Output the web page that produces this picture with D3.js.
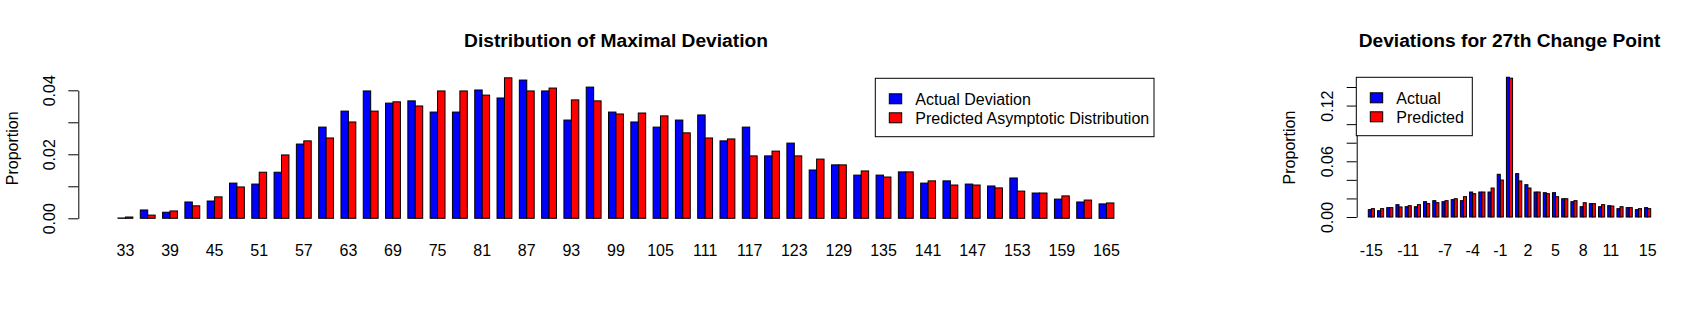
<!DOCTYPE html>
<html>
<head>
<meta charset="utf-8">
<script src="https://cdn.jsdelivr.net/npm/d3@7"></script>
<style>
  body { margin: 0; background: #fff; }
  svg { font-family: "Liberation Sans", Arial, sans-serif; }
</style>
</head>
<body>
<svg id="chart" width="1708" height="318"></svg>
<script>
// values

var devCats = [33, 36, 39, 42, 45, 48, 51, 54, 57, 60, 63, 66, 69, 72, 75, 78, 81, 84, 87, 90, 93, 96,
               99, 102, 105, 108, 111, 114, 117, 120, 123, 126, 129, 132, 135, 138, 141, 144, 147, 150,
               153, 156, 159, 162, 165];
var devActual = [0.0001, 0.0026, 0.0019, 0.0051, 0.0054, 0.0110, 0.0107, 0.0144, 0.0232, 0.0285, 0.0335,
                 0.0398, 0.0360, 0.0367, 0.0332, 0.0332, 0.0401, 0.0376, 0.0432, 0.0398, 0.0307, 0.0410,
                 0.0332, 0.0301, 0.0285, 0.0307, 0.0323, 0.0242, 0.0285, 0.0195, 0.0235, 0.0151, 0.0167,
                 0.0135, 0.0135, 0.0145, 0.0110, 0.0117, 0.0107, 0.0101, 0.0126, 0.0079, 0.0060, 0.0051,
                 0.0045];
var devPredicted = [0.0004, 0.0010, 0.0023, 0.0039, 0.0067, 0.0098, 0.0144, 0.0198, 0.0242, 0.0251, 0.0301,
                    0.0335, 0.0364, 0.0351, 0.0398, 0.0398, 0.0385, 0.0439, 0.0398, 0.0407, 0.0370, 0.0367,
                    0.0326, 0.0329, 0.0320, 0.0267, 0.0251, 0.0248, 0.0195, 0.0210, 0.0195, 0.0185, 0.0167,
                    0.0148, 0.0129, 0.0145, 0.0117, 0.0104, 0.0104, 0.0095, 0.0085, 0.0079, 0.0070, 0.0057,
                    0.0048];
var devLabels = [33, 39, 45, 51, 57, 63, 69, 75, 81, 87, 93, 99, 105, 111, 117, 123, 129, 135, 141, 147,
                 153, 159, 165];
var devYTicks = [0, 0.01, 0.02, 0.03, 0.04];
var devYLabels = [0, 0.02, 0.04];
var devLegend = ["Actual Deviation", "Predicted Asymptotic Distribution"];

var cpCats = [-15, -14, -13, -12, -11, -10, -9, -8, -7, -6, -5, -4, -3, -2, -1, 0,
              1, 2, 3, 4, 5, 6, 7, 8, 9, 10, 11, 12, 13, 14, 15];
var cpActual = [0.0079, 0.0068, 0.0101, 0.0133, 0.0111, 0.0111, 0.0165, 0.0176, 0.0165, 0.0187, 0.0176,
                0.0269, 0.0269, 0.0269, 0.0460, 0.1505, 0.0467, 0.0348, 0.0269, 0.0262, 0.0262, 0.0197,
                0.0165, 0.0111, 0.0144, 0.0111, 0.0122, 0.0090, 0.0101, 0.0079, 0.0101];
var cpPredicted = [0.0090, 0.0090, 0.0101, 0.0108, 0.0122, 0.0133, 0.0144, 0.0154, 0.0176, 0.0197, 0.0219,
                   0.0251, 0.0269, 0.0312, 0.0398, 0.1495, 0.0388, 0.0312, 0.0269, 0.0251, 0.0219, 0.0197,
                   0.0176, 0.0154, 0.0144, 0.0133, 0.0118, 0.0111, 0.0101, 0.0090, 0.0090];
var cpLabels = [-15, -11, -7, -4, -1, 2, 5, 8, 11, 15];
var cpYTicks = [0, 0.02, 0.04, 0.06, 0.08, 0.10, 0.12, 0.14];
var cpYLabels = [0, 0.06, 0.12];
var cpLegend = ["Actual", "Predicted"];

var seriesColors = ["#0000ff", "#ff0000"];

var svg = d3.select("#chart");

//////////////////////////////////////////////////////////////////////////////
// one R-style grouped barplot

function drawPanel(p)
{
    var g = svg.append("g");

    var x = d3.scaleBand()
        .domain(p.cats)
        .range([p.barLeft, p.barRight])
        .paddingInner(1/3)
        .paddingOuter(0);
    var xInner = d3.scaleBand()
        .domain([0, 1])
        .range([0, x.bandwidth()]);
    var y = d3.scaleLinear()
        .domain([0, p.yTicks[p.yTicks.length - 1]])
        .range([p.y0, p.yTop]);

    var rows = p.cats.map(function(c, i) {
        return {cat: c, vals: [p.actual[i], p.predicted[i]]};
    });

    g.append("g")
        .selectAll("g")
        .data(rows)
        .enter()
        .append("g")
        .attr("transform", function(d) { return "translate(" + x(d.cat) + ",0)"; })
        .selectAll("rect")
        .data(function(d) { return d.vals; })
        .enter()
        .append("rect")
        .attr("x", function(d, i) { return xInner(i); })
        .attr("y", function(d) { return y(d); })
        .attr("width", xInner.bandwidth())
        .attr("height", function(d) { return y(0) - y(d); })
        .attr("fill", function(d, i) { return seriesColors[i]; })
        .attr("stroke", "#000")
        .attr("stroke-width", 1);

    // y axis
    var yAxis = g.append("g")
        .attr("transform", "translate(" + p.axisX + ",0)")
        .call(d3.axisLeft(y)
            .tickValues(p.yTicks)
            .tickSize(10)
            .tickSizeOuter(0)
            .tickFormat(function(d) {
                return p.yLabels.some(function(v) { return Math.abs(v - d) < 1e-9; }) ? d3.format(".2f")(d) : "";
            }));
    yAxis.select(".domain").attr("stroke", "#000");
    yAxis.selectAll(".tick line").attr("stroke", "#000");
    yAxis.selectAll(".tick text")
        .attr("x", null).attr("dy", null)
        .attr("transform", "translate(-23.3,0) rotate(-90)")
        .attr("text-anchor", "middle")
        .attr("fill", "#000")
        .style("font-size", "16px");
    yAxis.attr("font-family", null);

    // x labels, no line
    var xAxis = g.append("g")
        .attr("transform", "translate(0," + p.labelY + ")")
        .call(d3.axisBottom(x)
            .tickSize(0)
            .tickFormat(function(d) { return p.labels.indexOf(d) >= 0 ? String(d) : ""; }));
    xAxis.select(".domain").remove();
    xAxis.attr("font-family", null);
    xAxis.selectAll(".tick text")
        .attr("y", 0).attr("dy", null)
        .attr("fill", "#000")
        .style("font-size", "16px");

    // title and axis label
    g.append("text")
        .attr("x", p.titleX)
        .attr("y", 47.3)
        .attr("text-anchor", "middle")
        .style("font-size", "19.2px")
        .style("font-weight", "bold")
        .text(p.title);

    g.append("text")
        .attr("transform", "translate(" + p.ylabX + "," + p.ylabY + ") rotate(-90)")
        .attr("text-anchor", "middle")
        .style("font-size", "16px")
        .text("Proportion");

    // legend
    var lg = g.append("g").attr("transform", "translate(" + p.legX + "," + p.legY + ")");
    lg.append("rect")
        .attr("width", p.legW).attr("height", 58.4)
        .attr("fill", "#fff").attr("stroke", "#000").attr("stroke-width", 1);
    var item = lg.selectAll("g.item")
        .data(p.legend)
        .enter()
        .append("g")
        .attr("class", "item")
        .attr("transform", function(d, i) { return "translate(0," + (i * 19) + ")"; });
    item.append("rect")
        .attr("x", 14).attr("y", 15.5)
        .attr("width", 12.4).attr("height", 10)
        .attr("fill", function(d, i) { return seriesColors[i]; })
        .attr("stroke", "#000");
    item.append("text")
        .attr("x", 40).attr("y", 27)
        .style("font-size", "16px")
        .text(function(d) { return d; });
}

drawPanel({
    cats: devCats, actual: devActual, predicted: devPredicted,
    labels: devLabels, yTicks: devYTicks, yLabels: devYLabels, legend: devLegend,
    title: "Distribution of Maximal Deviation",
    barLeft: 118, barRight: 1113.9, y0: 218.3, yTop: 90.3,
    axisX: 78.3, labelY: 256, titleX: 616, ylabX: 18.3, ylabY: 148.3,
    legX: 875.3, legY: 78.3, legW: 278.7
});

drawPanel({
    cats: cpCats, actual: cpActual, predicted: cpPredicted,
    labels: cpLabels, yTicks: cpYTicks, yLabels: cpYLabels, legend: cpLegend,
    title: "Deviations for 27th Change Point",
    barLeft: 1368.3, barRight: 1650.7, y0: 217.0, yTop: 87.0,
    axisX: 1356.7, labelY: 256, titleX: 1509.5, ylabX: 1295, ylabY: 147.5,
    legX: 1356.3, legY: 77.3, legW: 116
});
</script>
</body>
</html>
